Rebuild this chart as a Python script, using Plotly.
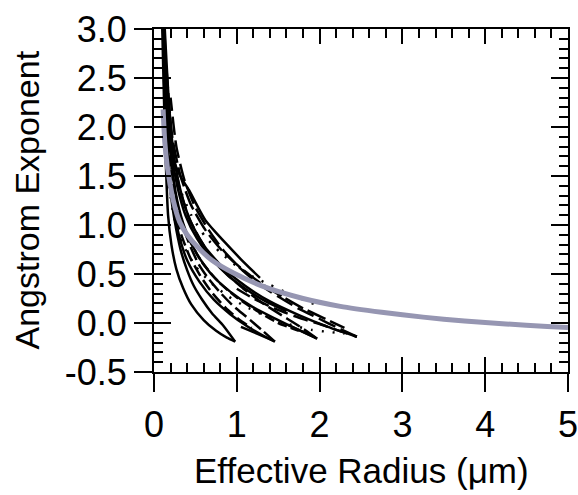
import plotly.graph_objects as go

# ---- data ----
x_ticks = [0, 1, 2, 3, 4, 5]
x_tick_labels = ["0", "1", "2", "3", "4", "5"]
y_ticks = [-0.5, 0.0, 0.5, 1.0, 1.5, 2.0, 2.5, 3.0]
y_tick_labels = ["-0.5", "0.0", "0.5", "1.0", "1.5", "2.0", "2.5", "3.0"]
x_title = "Effective Radius (\u03bcm)"
y_title = "Angstrom Exponent"

# grey reference curve
gray_x = [0.11, 0.13, 0.16, 0.19, 0.23, 0.31, 0.40, 0.52, 0.70, 0.96, 1.36, 1.80, 2.25, 2.75, 3.25, 3.75, 4.25, 4.75, 5.0]
gray_y = [2.18, 1.85, 1.60, 1.44, 1.26, 1.03, 0.90, 0.78, 0.64, 0.51, 0.36, 0.25, 0.17, 0.11, 0.06, 0.02, -0.01, -0.035, -0.045]

# black model curves
a_lo_x = [0.10, 0.12, 0.14, 0.17, 0.21, 0.27, 0.35, 0.45, 0.60, 0.75, 0.88, 0.98]
a_lo_y = [3.0, 2.3, 1.7, 1.1, 0.8, 0.55, 0.36, 0.19, 0.03, -0.08, -0.15, -0.19]
a_hi_x = [0.98, 0.84, 0.70, 0.58, 0.48, 0.40, 0.33, 0.27, 0.22, 0.18, 0.15, 0.12]
a_hi_y = [-0.19, -0.03, 0.10, 0.24, 0.38, 0.54, 0.72, 0.95, 1.2, 1.5, 1.9, 2.5]
b_lo_x = [0.11, 0.14, 0.18, 0.23, 0.30, 0.40, 0.55, 0.72, 0.92, 1.12, 1.30, 1.46]
b_lo_y = [3.0, 2.2, 1.6, 1.2, 0.9, 0.64, 0.42, 0.24, 0.09, -0.03, -0.12, -0.19]
b_hi_x = [1.46, 1.30, 1.12, 0.95, 0.80, 0.66, 0.54, 0.44, 0.35, 0.28, 0.22, 0.17]
b_hi_y = [-0.19, -0.07, 0.06, 0.18, 0.31, 0.45, 0.60, 0.78, 0.98, 1.22, 1.55, 2.0]
c_lo_x = [0.12, 0.16, 0.21, 0.28, 0.38, 0.52, 0.70, 0.92, 1.18, 1.45, 1.72, 1.97]
c_lo_y = [3.0, 2.2, 1.65, 1.25, 0.95, 0.70, 0.49, 0.32, 0.17, 0.05, -0.06, -0.16]
c_hi_x = [1.97, 1.75, 1.52, 1.30, 1.08, 0.88, 0.70, 0.55, 0.42, 0.32, 0.24, 0.18]
c_hi_y = [-0.16, -0.03, 0.09, 0.21, 0.35, 0.50, 0.67, 0.86, 1.08, 1.34, 1.68, 2.15]
d_lo_x = [0.13, 0.18, 0.24, 0.33, 0.45, 0.62, 0.84, 1.10, 1.40, 1.75, 2.10, 2.45]
d_lo_y = [3.0, 2.25, 1.7, 1.32, 1.02, 0.77, 0.56, 0.38, 0.22, 0.08, -0.04, -0.14]
d_hi_x = [2.45, 2.22, 1.98, 1.74, 1.50, 1.26, 1.04, 0.84, 0.66, 0.50, 0.37, 0.27, 0.20]
d_hi_y = [-0.14, -0.05, 0.05, 0.15, 0.27, 0.40, 0.56, 0.74, 0.95, 1.18, 1.45, 1.8, 2.3]
e_x = [0.12, 0.15, 0.19, 0.25, 0.33, 0.43, 0.56, 0.70, 0.86, 1.02, 1.18]
e_y = [2.8, 2.0, 1.5, 1.15, 0.9, 0.68, 0.48, 0.31, 0.16, 0.04, -0.05]
top_x = [0.13, 0.16, 0.19, 0.25, 0.33, 0.42, 0.52, 0.62, 0.74, 0.86, 1.05, 1.28]
top_y = [2.9, 2.25, 1.87, 1.63, 1.48, 1.36, 1.20, 1.05, 0.93, 0.82, 0.65, 0.46]
f_x = [1.0, 1.2, 1.4, 1.6, 1.8, 2.0, 2.2, 2.45]
f_y = [0.35, 0.25, 0.17, 0.10, 0.04, -0.01, -0.07, -0.14]
g_x = [0.12, 0.16, 0.22, 0.30, 0.42, 0.58, 0.78, 1.0, 1.25, 1.5, 1.75]
g_y = [2.7, 1.95, 1.45, 1.12, 0.86, 0.62, 0.42, 0.26, 0.12, 0.0, -0.08]
h_x = [0.14, 0.2, 0.28, 0.38, 0.52, 0.7, 0.9, 1.12, 1.35, 1.6]
h_y = [2.5, 1.8, 1.4, 1.1, 0.86, 0.65, 0.48, 0.34, 0.22, 0.12]
i_x = [0.15, 0.22, 0.32, 0.45, 0.62, 0.82, 1.05, 1.3, 1.55, 1.8, 2.05, 2.3]
i_y = [2.6, 1.9, 1.5, 1.2, 0.95, 0.74, 0.56, 0.40, 0.27, 0.15, 0.05, -0.05]
z1_x = [1.05, 1.25, 1.44]
z1_y = [-0.04, -0.11, -0.18]
z2_x = [1.62, 1.80, 1.95]
z2_y = [-0.02, -0.09, -0.15]
dot1_x = [0.2, 0.3, 0.45, 0.62, 0.8, 1.0, 1.2, 1.4, 1.6, 1.8, 2.0]
dot1_y = [1.75, 1.4, 1.1, 0.88, 0.72, 0.58, 0.47, 0.39, 0.31, 0.24, 0.17]
dot2_x = [0.18, 0.25, 0.35, 0.5, 0.7, 0.9, 1.1, 1.3, 1.5, 1.7, 1.9, 2.1, 2.3]
dot2_y = [1.4, 1.05, 0.8, 0.58, 0.4, 0.27, 0.17, 0.09, 0.02, -0.03, -0.07, -0.09, -0.11]

black_curves = [
    (a_lo_x, a_lo_y, "solid"),
    (a_hi_x, a_hi_y, "solid"),
    (b_lo_x, b_lo_y, "solid"),
    (b_hi_x, b_hi_y, "14px,5px"),
    (c_lo_x, c_lo_y, "solid"),
    (c_hi_x, c_hi_y, "16px,5px"),
    (d_lo_x, d_lo_y, "solid"),
    (d_hi_x, d_hi_y, "18px,6px"),
    (e_x, e_y, "12px,5px"),
    (top_x, top_y, "solid"),
    (f_x, f_y, "15px,6px"),
    (g_x, g_y, "10px,4px"),
    (h_x, h_y, "solid"),
    (i_x, i_y, "20px,5px"),
    (z1_x, z1_y, "solid"),
    (z2_x, z2_y, "solid"),
    (dot1_x, dot1_y, "2px,9px"),
    (dot2_x, dot2_y, "2px,9px"),
]

FONT = "Liberation Sans, Arial, Helvetica, sans-serif"

fig = go.Figure()
for cx, cy, dash in black_curves:
    fig.add_trace(go.Scatter(x=cx, y=cy, mode="lines",
                             line=dict(color="black", width=2.5, dash=dash, shape="spline", smoothing=0.6),
                             showlegend=False, hoverinfo="skip"))
fig.add_trace(go.Scatter(x=gray_x, y=gray_y, mode="lines",
                         line=dict(color="#9696b2", width=5, shape="spline", smoothing=0.6),
                         showlegend=False, hoverinfo="skip"))
# dummy trace for the overlay axes (inside ticks)
fig.add_trace(go.Scatter(x=[None], y=[None], xaxis="x2", yaxis="y2", showlegend=False, hoverinfo="skip"))

fig.update_layout(
    width=578, height=495,
    margin=dict(l=154, r=10, t=29, b=123),
    paper_bgcolor="white", plot_bgcolor="white",
    font=dict(family=FONT, size=36, color="black"),
    xaxis=dict(range=[0, 5], tickvals=x_ticks, ticktext=x_tick_labels, ticks="outside", ticklen=18, tickwidth=2,
               tickcolor="black", showline=True, linewidth=2, linecolor="black", mirror=True,
               showgrid=False, zeroline=False, ticklabelstandoff=2, automargin=False,
               ticklabeloverflow="allow"),
    yaxis=dict(range=[-0.5, 3.0], tickvals=y_ticks, ticktext=y_tick_labels, ticks="outside", ticklen=18, tickwidth=2,
               tickcolor="black", showline=True, linewidth=2, linecolor="black", mirror=True,
               showgrid=False, zeroline=False, ticklabelstandoff=0, automargin=False,
               ticklabeloverflow="allow"),
    xaxis2=dict(range=[0, 5], overlaying="x", anchor="y2", side="bottom", tickvals=x_ticks, showticklabels=False,
                ticks="inside", ticklen=15, tickwidth=2, tickcolor="black", mirror="ticks", showline=False,
                showgrid=False, zeroline=False, automargin=False,
                minor=dict(dtick=0.2, ticks="inside", ticklen=9, tickwidth=2, tickcolor="black", showgrid=False)),
    yaxis2=dict(range=[-0.5, 3.0], overlaying="y", anchor="x2", side="left", tickvals=y_ticks, showticklabels=False,
                ticks="inside", ticklen=17, tickwidth=2, tickcolor="black", mirror="ticks", showline=False,
                showgrid=False, zeroline=False, automargin=False,
                minor=dict(dtick=0.1, ticks="inside", ticklen=9, tickwidth=2, tickcolor="black", showgrid=False)),
    annotations=[
        dict(text=x_title, xref="paper", yref="paper", x=0.5, y=0, yshift=-98, xanchor="center", yanchor="middle",
             showarrow=False, font=dict(size=35)),
        dict(text=y_title, xref="paper", yref="paper", x=0, y=0.5, xshift=-128, xanchor="center", yanchor="middle",
             textangle=-90, showarrow=False, font=dict(size=34)),
    ],
)

fig.write_html("out.html", config={"displayModeBar": False},
               post_script="document.body.style.margin='0';document.body.style.padding='0';")
